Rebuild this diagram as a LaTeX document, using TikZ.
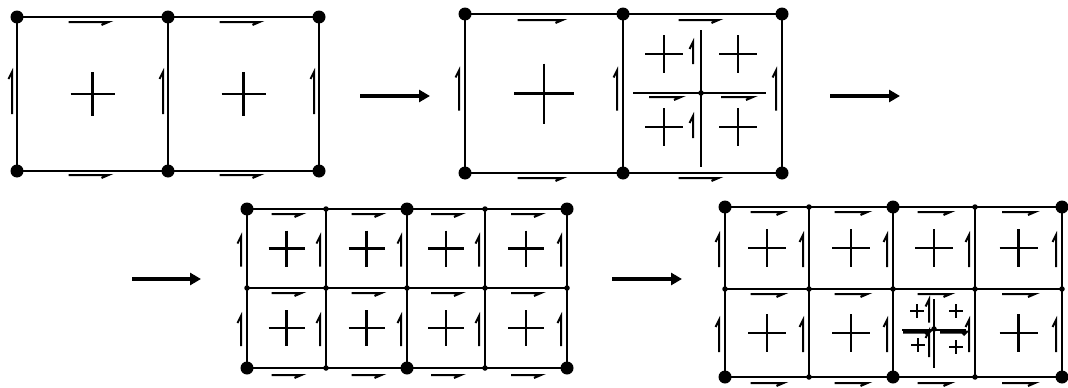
\documentclass[tikz,border=0pt]{standalone}
\usetikzlibrary{arrows.meta,calc}
\tikzset{
  edge/.style={line width=1.7pt},
  plusline/.style={line width=2.2pt},
  marker/.style={line width=2pt},
  thickmarker/.style={line width=3pt},
  bigdot/.style={circle, fill, inner sep=0pt, minimum size=13pt},
  smalldot/.style={circle, fill, inner sep=0pt, minimum size=5.5pt},
  flow/.style={-{Triangle[length=11pt,width=12pt]}, line width=4pt},
  plussign/.pic={\draw[plusline] (-#1,0) -- (#1,0) (0,-#1) -- (0,#1);},
  hmark/.pic={\draw[marker] ({-#1/2},0) -- ({#1/2},0) -- ++(-7,3);},
  hmarkthick/.pic={\draw[thickmarker] ({-#1/2},0) -- ({#1/2},0) -- ++(-3,3);},
  vmark/.pic={\draw[marker] (0,{#1/2}) -- (0,{-#1/2}) -- ++(-3.5,7);}
}
\begin{document}
\begin{tikzpicture}[x=1pt,y=-1pt]
\useasboundingbox (0,0) rectangle (1068,388);

% panel 1: two coarse cells
\foreach \x [count=\i] in {17,168,319}
  \foreach \y [count=\j] in {17,171}
    \coordinate (a\i\j) at (\x,\y);
\draw[edge] (a11) -- (a31) (a12) -- (a32);
\foreach \i in {1,2,3} \draw[edge] (a\i1) -- (a\i2);
\foreach \i [evaluate=\i as \k using int(\i+1)] in {1,2} {
  \pic at ($(a\i1)!0.5!(a\k2)$) {plussign=22};
  \pic at ($(a\i1)!0.5!(a\k1)+(-4,5)$) {hmark=40};
  \pic at ($(a\i2)!0.5!(a\k2)+(-4,4)$) {hmark=40};
}
\foreach \i in {1,2,3} \pic at ($(a\i1)!0.5!(a\i2)+(-5,-1)$) {vmark=42};
\foreach \i in {1,2,3} \foreach \j in {1,2} \node[bigdot] (da\i\j) at (a\i\j) {};

% panel 2: right cell refined once
\foreach \x [count=\i] in {465,623,782}
  \foreach \y [count=\j] in {14,173}
    \coordinate (b\i\j) at (\x,\y);
\draw[edge] (b11) -- (b31) (b12) -- (b32);
\foreach \i in {1,2,3} \draw[edge] (b\i1) -- (b\i2);
\pic at ($(b11)!0.5!(b22)$) {plussign=30};
\pic at ($(b11)!0.5!(b21)+(-4,6)$) {hmark=45};
\pic at ($(b12)!0.5!(b22)+(-4,5)$) {hmark=45};
\pic at ($(b21)!0.5!(b31)+(-4,6)$) {hmark=40};
\pic at ($(b22)!0.5!(b32)+(-4,5)$) {hmark=40};
\foreach \i in {1,2,3} \pic at ($(b\i1)!0.5!(b\i2)+(-6,-3)$) {vmark=40};
\coordinate (bm) at (701,93);
\coordinate (bt) at (701,30);
\coordinate (bb) at (701,167);
\coordinate (bl) at (633,93);
\coordinate (br) at (766,93);
\draw[edge] (bt) -- (bb) (bl) -- (br);
\foreach \dx/\dy in {-37/-39,37/-39,-37/34,37/34}
  \pic at ($(bm)+(\dx,\dy)$) {plussign=19};
\pic at ($(bm)+(-8,-40)$) {vmark=22};
\pic at ($(bm)+(-8,34)$) {vmark=22};
\pic at ($(bm)+(-36,4)$) {hmark=32};
\pic at ($(bm)+(36,4)$) {hmark=32};
\foreach \i in {1,2,3} \foreach \j in {1,2} \node[bigdot] (db\i\j) at (b\i\j) {};
\node[smalldot] (dbm) at (bm) {};

% panel 3: uniform refinement
\foreach \x [count=\i] in {247,326,407,485,567}
  \foreach \y [count=\j] in {209,288,368}
    \coordinate (c\i\j) at (\x,\y);
\foreach \j in {1,2,3} \draw[edge] (c1\j) -- (c5\j);
\foreach \i in {1,...,5} \draw[edge] (c\i1) -- (c\i3);
\foreach \i [evaluate=\i as \k using int(\i+1)] in {1,...,4} {
  \foreach \j [evaluate=\j as \l using int(\j+1)] in {1,2} {
    \pic at ($(c\i\j)!0.5!(c\k\l)$) {plussign=18};
    \pic at ($(c\i\j)!0.5!(c\k\j)+(0,5)$) {hmark=30};
    \pic at ($(c\i\j)!0.5!(c\i\l)+(-6,3)$) {vmark=30};
  }
  \pic at ($(c\i3)!0.5!(c\k3)+(0,7)$) {hmark=30};
}
\foreach \j [evaluate=\j as \l using int(\j+1)] in {1,2}
  \pic at ($(c5\j)!0.5!(c5\l)+(-6,3)$) {vmark=30};
\foreach \i in {1,...,5} \foreach \j in {1,2,3} \node[smalldot] (dc\i\j) at (c\i\j) {};
\foreach \i in {1,3,5} \foreach \j in {1,3} \node[bigdot] (dC\i\j) at (c\i\j) {};

% panel 4: one fine cell refined again
\foreach \x [count=\i] in {725,809,893,975,1062}
  \foreach \y [count=\j] in {207,289,377}
    \coordinate (d\i\j) at (\x,\y);
\foreach \j in {1,2,3} \draw[edge] (d1\j) -- (d5\j);
\foreach \i in {1,...,5} \draw[edge] (d\i1) -- (d\i3);
\foreach \i [evaluate=\i as \k using int(\i+1)] in {1,...,4} {
  \foreach \j [evaluate=\j as \l using int(\j+1)] in {1,2} {
    \ifnum\i\j=32\else
      \pic at ($(d\i\j)!0.5!(d\k\l)$) {plussign=19};
    \fi
    \pic at ($(d\i\j)!0.5!(d\k\j)+(0,5)$) {hmark=33};
    \pic at ($(d\i\j)!0.5!(d\i\l)+(-6,3)$) {vmark=32};
  }
  \pic at ($(d\i3)!0.5!(d\k3)+(0,6)$) {hmark=33};
}
\foreach \j [evaluate=\j as \l using int(\j+1)] in {1,2}
  \pic at ($(d5\j)!0.5!(d5\l)+(-6,3)$) {vmark=32};
\coordinate (dm) at (934,329);
\coordinate (dt) at (934,299);
\coordinate (db) at (934,368);
\coordinate (dl) at (902,330);
\coordinate (dr) at (966,330);
\draw[edge] (dt) -- (db) (dl) -- (dr);
\foreach \dx/\dy in {-17/-18,22/-18,-16/16,22/18}
  \pic at ($(dm)+(\dx,\dy)$) {plussign=7};
\pic at ($(dm)+(-5,-18)$) {vmark=23};
\pic at ($(dm)+(-5,15)$) {vmark=26};
\pic at ($(dm)+(-18,3)$) {hmarkthick=26};
\pic at ($(dm)+(19,3)$) {hmarkthick=26};
\foreach \i in {1,...,5} \foreach \j in {1,2,3} \node[smalldot] (dd\i\j) at (d\i\j) {};
\foreach \i in {1,3,5} \foreach \j in {1,3} \node[bigdot] (dD\i\j) at (d\i\j) {};
\node[smalldot] (ddm) at (dm) {};

% refinement arrows
\coordinate (f1s) at (360,96);
\coordinate (f1e) at (430,96);
\coordinate (f2s) at (830,96);
\coordinate (f2e) at (900,96);
\coordinate (f3s) at (132,279);
\coordinate (f3e) at (201,279);
\coordinate (f4s) at (612,279);
\coordinate (f4e) at (682,279);
\draw[flow] (f1s) -- (f1e);
\draw[flow] (f2s) -- (f2e);
\draw[flow] (f3s) -- (f3e);
\draw[flow] (f4s) -- (f4e);
\end{tikzpicture}
\end{document}
